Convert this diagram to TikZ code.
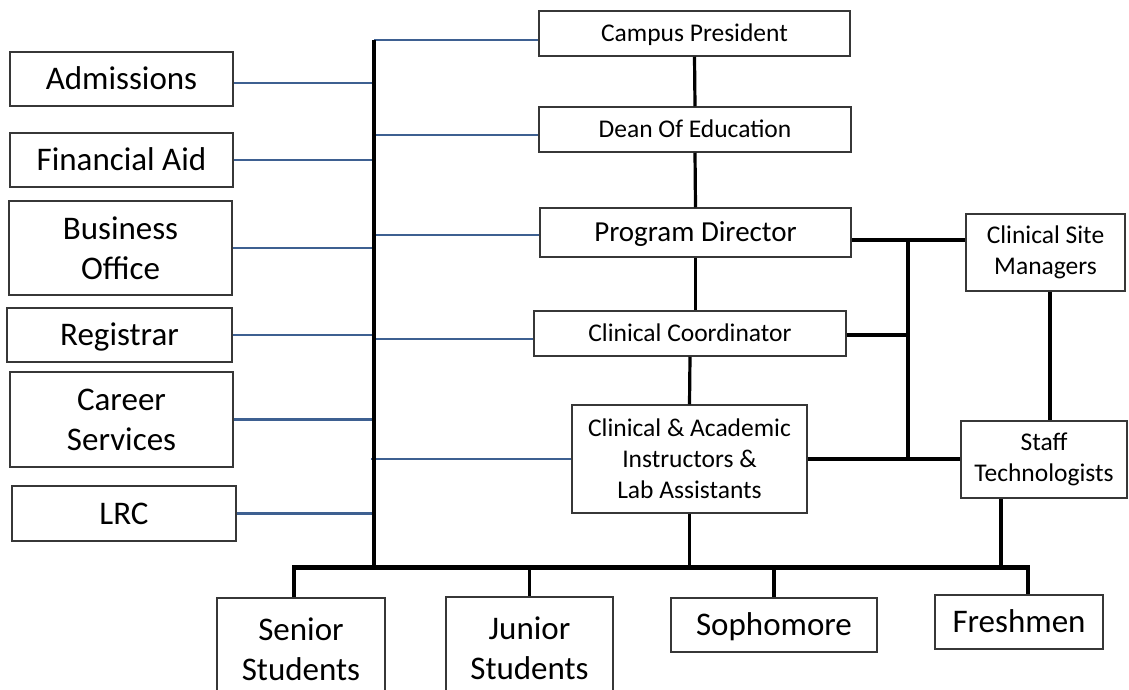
\documentclass[tikz,border=0pt]{standalone}
\usepackage{fontspec}
\setmainfont{Carlito}
\definecolor{lnblue}{RGB}{62,96,145}
\definecolor{bord}{RGB}{55,55,55}
\begin{document}
\begin{tikzpicture}[x=1pt,y=-1pt,
  box/.style={draw=bord,line width=1.5pt,inner sep=0pt,align=center},
  big/.style={font=\fontsize{33}{40}\selectfont},
  pdf/.style={font=\fontsize{29}{35}\selectfont},
  mid/.style={font=\fontsize{25.5}{31}\selectfont},
  bigone/.style={big,text height=21.3pt,text depth=0pt},
  pdfone/.style={pdf,text height=18.7pt,text depth=0pt},
  midone/.style={mid,text height=16.4pt,text depth=0pt},
  bl/.style={draw=lnblue,line width=2.8pt},
  bk/.style={draw=black,line width=3.2pt},
  busline/.style={draw=black,line width=5pt}]
\useasboundingbox[fill=white] (0,0) rectangle (1129,689);

% left column
\node[box,bigone,minimum width=223pt,minimum height=54pt] (adm) at (121.5,79) {Admissions};
\node[box,bigone,minimum width=223pt,minimum height=54pt] (fin) at (121.5,160) {Financial Aid};
\node[box,big,minimum width=223pt,minimum height=94pt] (bus) at (120.5,248) {Business\\Office};
\node[box,bigone,minimum width=225pt,minimum height=54pt] (reg) at (119.5,335) {Registrar};
\node[box,big,minimum width=223pt,minimum height=95pt] (car) at (121.5,419.5) {Career\\Services};
\node[box,bigone,minimum width=224pt,minimum height=55pt] (lrc) at (124,513.5) {LRC};

% centre column
\node[box,midone,minimum width=311pt,minimum height=45pt] (cp) at (694.5,33.5) {Campus President};
\node[box,midone,minimum width=312pt,minimum height=45pt] (dean) at (695,129.5) {Dean Of Education};
\node[box,pdfone,minimum width=311pt,minimum height=49pt] (pd) at (695.5,232.5) {Program Director};
\node[box,midone,minimum width=312pt,minimum height=45pt] (cc) at (690,333.5) {Clinical Coordinator};
\node[box,mid,minimum width=235pt,minimum height=108pt] (cai) at (689.5,459) {Clinical \& Academic\\Instructors \&\\Lab Assistants};

% right column
\node[box,mid,minimum width=159pt,minimum height=77pt] (csm) at (1045.5,252.5) {Clinical Site\\Managers};
\node[box,mid,minimum width=166pt,minimum height=77pt] (st) at (1044,459.5) {Staff\\Technologists};

% bottom row
\node[box,big,minimum width=168pt,minimum height=102pt] (sen) at (301,649) {Senior\\Students};
\node[box,big,minimum width=167pt,minimum height=103pt] (jun) at (529.5,648.5) {Junior\\Students};
\node[box,bigone,minimum width=206pt,minimum height=54pt] (soph) at (774,625) {Sophomore};
\node[box,bigone,minimum width=168pt,minimum height=54pt] (fresh) at (1019,622) {Freshmen};

% spine and bus
\coordinate (sptop) at (374,40);
\coordinate (spbot) at (374,567);
\coordinate (busL) at (294,567);
\coordinate (busR) at (1028,567);
\coordinate (j1) at (908,240);
\coordinate (j2) at (908,459);

% blue links
\draw[bl] ([yshift=-4pt]adm.east) -- ([yshift=-4pt]adm.east -| sptop);
\draw[bl] (fin.east) -- (fin.east -| sptop);
\draw[bl] (bus.east) -- (bus.east -| sptop);
\draw[bl] (reg.east) -- (reg.east -| sptop);
\draw[bl] (car.east) -- (car.east -| sptop);
\draw[bl] (lrc.east) -- (lrc.east -| sptop);
\draw[bl] (sptop) -- (sptop -| cp.west);
\draw[bl] ([yshift=-5.5pt]dean.west -| sptop) -- ([yshift=-5.5pt]dean.west);
\draw[bl] ([yshift=-2.5pt]pd.west -| sptop) -- ([yshift=-2.5pt]pd.west);
\draw[bl] ([yshift=-5.5pt]cc.west -| sptop) -- ([yshift=-5.5pt]cc.west);
\draw[bl] ([xshift=-3pt]cai.west -| sptop) -- (cai.west);

% black links
\draw[bk] (sptop) -- (spbot);
\draw[bk] (cp.south) -- (dean.north);
\draw[bk] (dean.south) -- (pd.north);
\draw[bk] (pd.south) -- (pd.south |- cc.north);
\draw[bk] (cc.south) -- (cai.north);
\draw[bk] (cai.south) -- (cai.south |- busL);
\draw[bk] (pd.east |- j1) -- (j1) -- (csm.west |- j1);
\draw[bk] (cc.east |- 0,335) -- (908,335);
\draw[bk] (cai.east) -- (j2) -- (st.west |- j2);
\draw[bk] (j1) -- (j2);
\draw[bk] (csm.south -| 1050,0) -- (st.north -| 1050,0);
\draw[bk] (st.south -| 1001,0) -- (1001,567);
\draw[busline] ([xshift=-2pt]busL) -- ([xshift=2pt]busR);
\draw[bk] (busL) -- (busL |- sen.north);
\draw[bk] (jun.north |- busL) -- (jun.north);
\draw[bk] (soph.north |- busL) -- (soph.north);
\draw[bk,line width=4pt] (busR) -- (busR |- fresh.north);
\end{tikzpicture}
\end{document}
